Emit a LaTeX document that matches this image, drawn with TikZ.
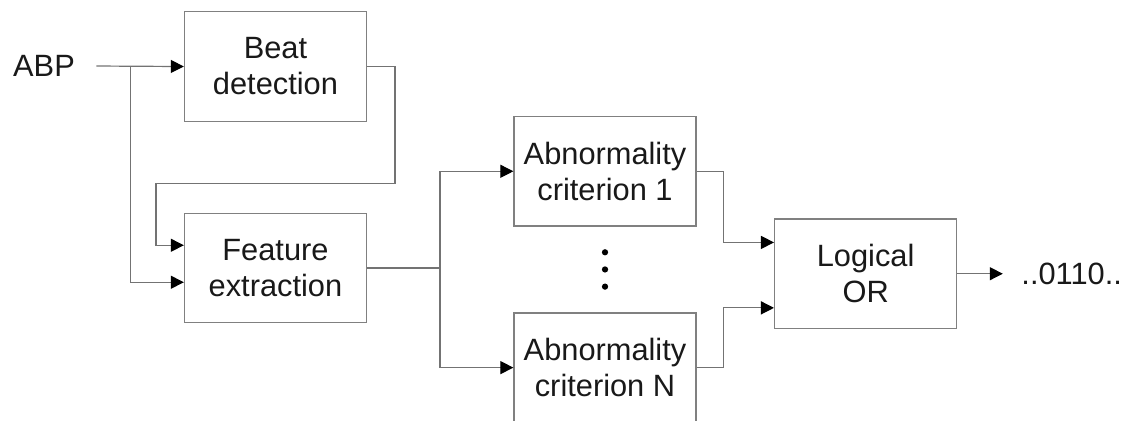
\documentclass[tikz,border=0pt]{standalone}
\usepackage{fontspec}
\setmainfont{Liberation Sans}
\usetikzlibrary{calc,
arrows.meta,
positioning}

\begin{document}
\begin{tikzpicture} [->,
  >={Triangle[width = 6.5pt, length = 6.5pt, color = black]},
  line width = .6pt,
  black!55,
  main node/.style={rectangle, draw = black!50, fill = white,
      text = black!90, align = center,
      minimum width = 3.2cm, minimum height = 1.92cm,
      font = \fontsize{15.4}{18}\selectfont},
  label node/.style={text = black!90, font = \fontsize{15.4}{18}\selectfont}]

  \useasboundingbox (0,0) rectangle (19.893,-7.398);

  \node [label node] (abp) at (0.773, -1.16) {ABP};

  \node [main node] (beat) at (4.841, -1.169) {Beat\\detection};

  \node [main node,
    below = 1.6cm of beat
  ] (feat) {Feature\\extraction};

  \node [main node,
    anchor = west
  ] (crit1) at ($(feat.east) + (2.57, 1.7)$) {Abnormality\\criterion 1};

  \node [main node,
    anchor = west
  ] (critn) at ($(feat.east) + (2.57, -1.75)$) {Abnormality\\criterion N};

  \node [main node,
    anchor = west
  ] (lor) at ($(feat.east) + (7.15, -0.1)$) {Logical\\OR};

  \coordinate [right = .8cm of lor] (outtip);
  \node [label node, right = .2cm of outtip] (out) {..0110..};

  % input
  \coordinate (abpend) at ($(abp.east) + (.25, 0)$);
  \coordinate (abpsplit) at ($(abp.east) + (.85, 0)$);
  \draw (abpend) -- (beat.west);
  \draw (abpsplit) |- ($(feat.west) + (0, -.25)$);

  % beats back into feature extraction
  \draw (beat.east) -- ++(.49, 0) -- ++(0, -2.05)
  -| ($(feat.west) + (-.49, .4)$) -- ($(feat.west) + (0, .4)$);

  \coordinate [right = 1.28cm of feat] (fsplit);
  \draw (feat.east) -- (fsplit) |- (crit1.west);
  \draw (fsplit) |- (critn.west);

  \fill [-, black] ($(crit1.south)!.3!(critn.north)$) circle (.055);
  \fill [-, black] ($(crit1.south)!.5!(critn.north)$) circle (.055);
  \fill [-, black] ($(crit1.south)!.7!(critn.north)$) circle (.055);

  \draw (crit1.east) -- ++(.47, 0) |- ($(lor.west) + (0, .55)$);
  \draw (critn.east) -- ++(.47, 0) |- ($(lor.west) + (0, -.6)$);

  \draw (lor.east) -- (outtip);

\end{tikzpicture}
\end{document}
